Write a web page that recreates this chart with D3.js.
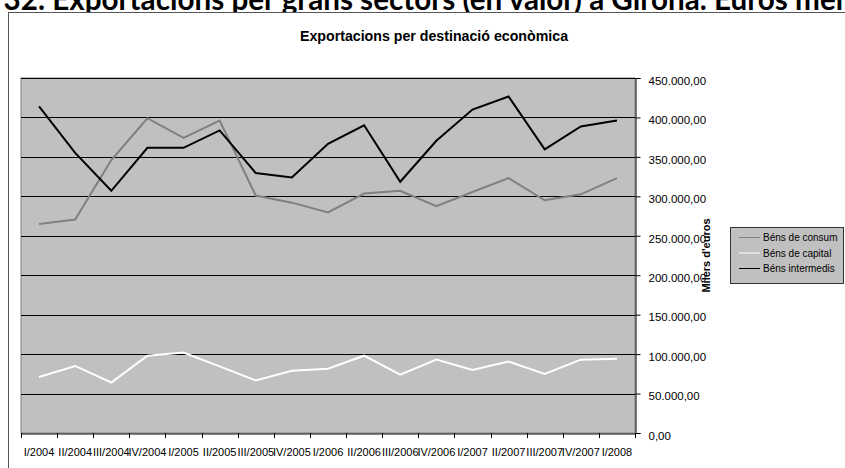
<!DOCTYPE html>
<html><head><meta charset="utf-8">
<script src="https://cdn.jsdelivr.net/npm/d3@7"></script>
<style>body{margin:0;background:#fff;} svg{display:block;}</style>
</head><body>
<svg id="c" width="845" height="468"></svg>
<script>
const categories = ["I/2004","II/2004","III/2004","IV/2004","I/2005","II/2005","III/2005","IV/2005","I/2006","II/2006","III/2006","IV/2006","I/2007","II/2007","III/2007","IV/2007","I/2008"];
const consum =     [265000,270500,346000,399000,374000,396000,301000,292000,279500,303500,307000,287500,305500,323000,295000,302500,323000];
const capital =    [71000,85000,64000,98000,102000,84500,66500,79000,81500,98000,74000,93000,80000,90500,75000,93000,94000];
const intermedis = [414000,355000,307000,361500,361500,383500,329500,324000,366500,390000,318500,370500,410000,426500,359500,388500,396000];
const yTicks = [0,50000,100000,150000,200000,250000,300000,350000,400000,450000];
const seriesNames = ["Béns de consum","Béns de capital","Béns intermedis"];
const seriesColors = ["#808080","#ffffff","#000000"];
const pageTitle = "Gràfic 32. Exportacions per grans sectors (en valor) a Girona. Euros mensuals";
const chartTitle = "Exportacions per destinació econòmica";
const axisTitle = "Milers d'euros";

const svg = d3.select("#c");
const L = 21, R = 635, T = 78, B = 433;

// page title (clipped at top, as in the reference)
const fs0 = 22;
const meas = svg.append("text").attr("font-family","Lato").attr("font-weight","bold").attr("font-size",fs0);
meas.text("Exportacions per grans sectors (en valor) a Girona. ");
const wMain = meas.node().getComputedTextLength();
const fs = fs0 * (700-45) / wMain;
meas.attr("font-size", fs).text("Gràfic 32. ");
const wPre = meas.node().getComputedTextLength();
meas.remove();
svg.append("text").attr("x", 45 - wPre).attr("y", 9.5)
  .attr("font-family","Lato").attr("font-weight","bold").attr("font-size", fs)
  .attr("fill","#000").text(pageTitle);

// chart frame
svg.append("rect").attr("x",8.5).attr("y",12.5).attr("width",900).attr("height",500)
  .attr("fill","#fff").attr("stroke","#555").attr("stroke-width",1);

svg.append("text").attr("x",434).attr("y",41).attr("text-anchor","middle")
  .attr("font-family","Liberation Sans, Arial").attr("font-weight","bold").attr("font-size",14.2)
  .text(chartTitle);

const x = d3.scaleBand().domain(categories).range([L,R]);
const y = d3.scaleLinear().domain([0,450000]).range([B,T]);

svg.append("rect").attr("x",L).attr("y",T).attr("width",R-L).attr("height",B-T)
  .attr("fill","#c0c0c0").attr("stroke","#808080").attr("stroke-width",1);

svg.append("g").selectAll("line").data(yTicks.filter(d=>d>0)).join("line")
  .attr("x1",L).attr("x2",R).attr("y1",d=>Math.round(y(d))+0.5).attr("y2",d=>Math.round(y(d))+0.5)
  .attr("stroke","#000").attr("stroke-width",1);

const fmt = v => { const s = d3.format(",.2f")(v); return s.replace(/,/g,"#").replace(".",",").replace(/#/g,"."); };

const yAxis = svg.append("g").attr("transform",`translate(${R+0.5},0)`)
  .call(d3.axisRight(y).tickValues(yTicks).tickFormat(fmt).tickSize(5).tickPadding(8));
yAxis.selectAll("path,line").attr("stroke","#000");
yAxis.selectAll("text").attr("font-family","Liberation Sans, Arial").attr("font-size",11.5).attr("fill","#000").attr("dy","0.55em");

const xAxis = svg.append("g").attr("transform",`translate(0,${B+0.5})`)
  .call(d3.axisBottom(x).tickSize(0).tickPadding(15));
xAxis.select(".domain").attr("stroke","#000");
xAxis.selectAll("text").attr("font-family","Liberation Sans, Arial").attr("font-size",11).attr("fill","#000");
svg.append("g").selectAll("line").data(d3.range(categories.length+1)).join("line")
  .attr("x1",i=>Math.round(L+i*x.step())+0.5).attr("x2",i=>Math.round(L+i*x.step())+0.5)
  .attr("y1",B).attr("y2",B+5).attr("stroke","#000");

svg.append("text").attr("transform",`translate(710,${(T+B)/2}) rotate(-90)`)
  .attr("text-anchor","middle").attr("font-family","Liberation Sans, Arial").attr("font-weight","bold")
  .attr("font-size",11).text(axisTitle);

const line = d3.line().x((d,i)=>x(categories[i])+x.bandwidth()/2).y(d=>y(d));
[consum,capital,intermedis].forEach((s,k)=>{
  svg.append("path").datum(s).attr("d",line).attr("fill","none")
    .attr("stroke",seriesColors[k]).attr("stroke-width",2).attr("stroke-linejoin","miter");
});

// legend
const lg = svg.append("g");
lg.append("rect").attr("x",730.5).attr("y",227.5).attr("width",113).attr("height",56)
  .attr("fill","#c0c0c0").attr("stroke","#333");
seriesNames.forEach((n,k)=>{
  const yy = 237.5 + k*15.5;
  lg.append("line").attr("x1",739).attr("x2",760).attr("y1",yy).attr("y2",yy)
    .attr("stroke",seriesColors[k]).attr("stroke-width",1);
  lg.append("text").attr("x",763).attr("y",yy).attr("dy","0.35em")
    .attr("font-family","Liberation Sans, Arial").attr("font-size",10).text(n);
});
</script>
</body></html>
